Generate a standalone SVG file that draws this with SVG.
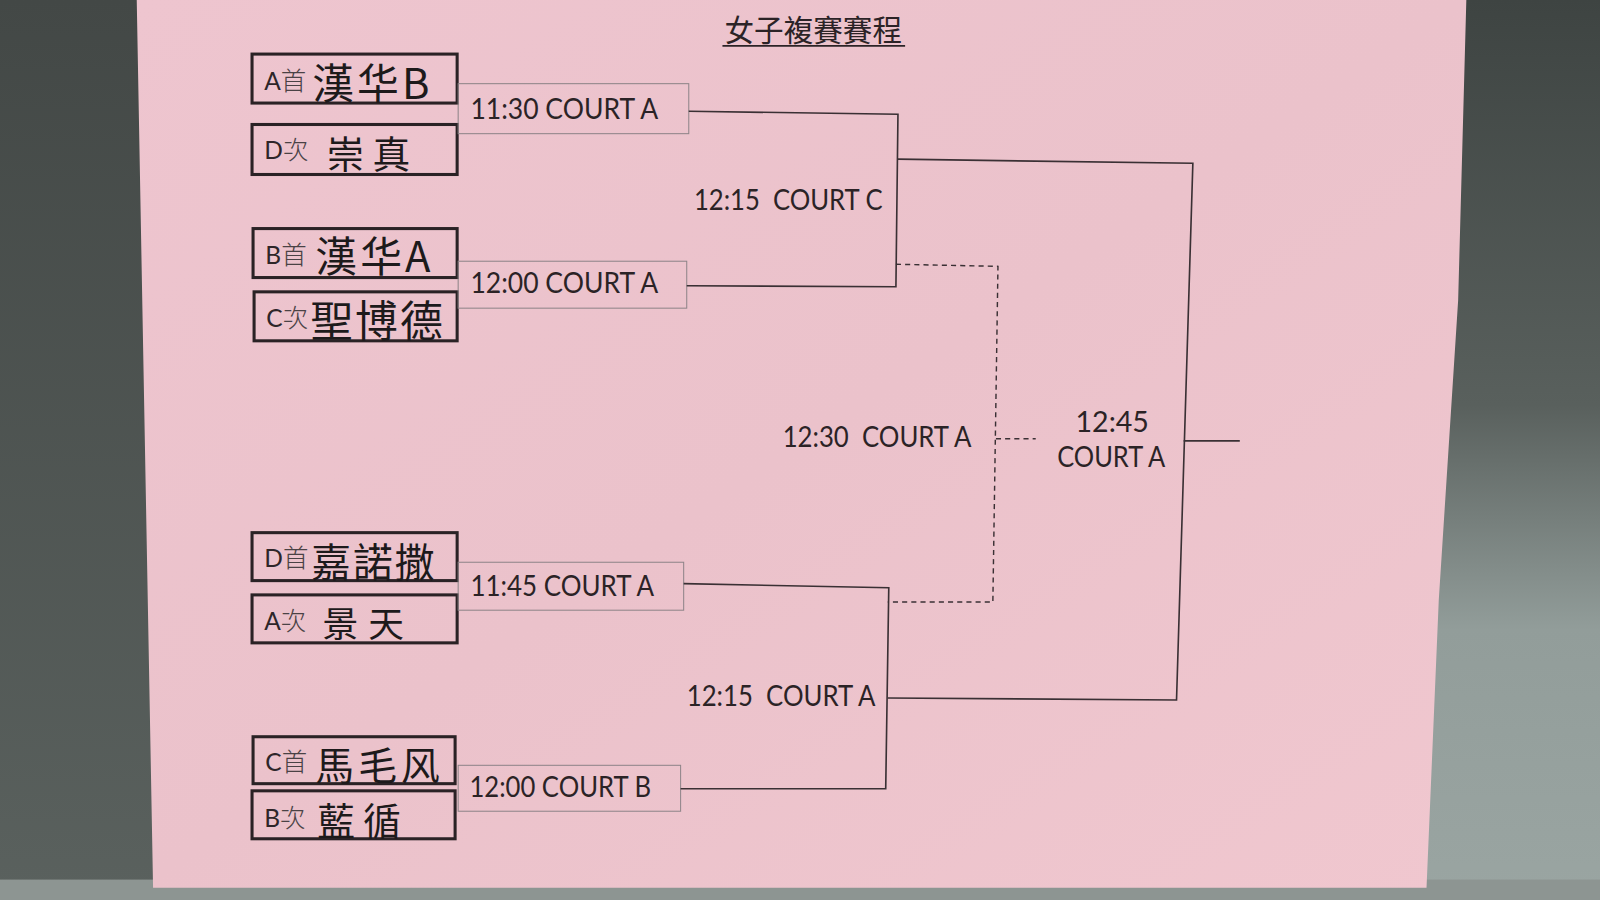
<svg xmlns="http://www.w3.org/2000/svg" width="1600" height="900" viewBox="0 0 1600 900">
<defs>
<linearGradient id="rbg" x1="0" y1="0" x2="0" y2="1">
<stop offset="0" stop-color="#3e4442"/>
<stop offset="0.45" stop-color="#59605d"/>
<stop offset="0.7" stop-color="#929d9a"/>
<stop offset="1" stop-color="#9aa5a2"/>
</linearGradient>
<linearGradient id="lbg" x1="0" y1="0" x2="0" y2="1">
<stop offset="0" stop-color="#434846"/>
<stop offset="1" stop-color="#5a615e"/>
</linearGradient>
<linearGradient id="paper" x1="0" y1="0" x2="1" y2="1">
<stop offset="0" stop-color="#eec5cf"/>
<stop offset="0.5" stop-color="#ebc2cb"/>
<stop offset="1" stop-color="#f0c7cf"/>
</linearGradient>
<style>
.team{fill:none;stroke:#2a2225;stroke-width:3}
.lbl{fill:none;stroke:#8e8488;stroke-width:1}
.pre{font-family:Lato,"Liberation Sans",sans-serif;font-size:24px;fill:#2e2629}
.pre2{font-family:"Noto Sans CJK TC","Noto Sans CJK SC",sans-serif;font-weight:300;font-size:25px;fill:#4a4245}
.hand{font-family:"Noto Sans CJK TC","Noto Sans CJK SC",sans-serif;font-weight:400;fill:#1d1a1b}
.time{font-family:Lato,"Open Sans",sans-serif;font-size:28px;fill:#2b2326}
.title{font-family:"Noto Sans CJK TC","Noto Sans CJK SC",sans-serif;font-size:29px;fill:#2b2326}
.ln{fill:none;stroke:#3a3034;stroke-width:1.6}
.dash{fill:none;stroke:#3a3034;stroke-width:1.4;stroke-dasharray:5 4}
</style>
</defs>
<g transform="scale(1.020408)">
<rect x="0" y="0" width="1568" height="882" fill="url(#lbg)"/>
<rect x="1380" y="0" width="188" height="882" fill="url(#rbg)"/>
<rect x="0" y="862" width="1568" height="20" fill="#8d9592"/>
<polygon points="134,0 1437,0 1429,294 1410,588 1398,870 150,870" fill="url(#paper)"/>

<g id="title">
<text class="title" x="797" y="40" text-anchor="middle">女子複賽賽程</text>
<line x1="708" y1="45" x2="887" y2="45" stroke="#2b2326" stroke-width="1.6"/>
</g>

<g id="team-a1">
<rect class="team" x="247" y="53" width="201" height="48"/>
<text x="259" y="88"><tspan class="pre">A</tspan><tspan class="pre2">首</tspan></text>
<text class="hand" x="306" y="97" font-size="41" letter-spacing="3">漢华B</text>
</g>
<g id="team-d2">
<rect class="team" x="247" y="122" width="201" height="49"/>
<text x="259" y="156"><tspan class="pre">D</tspan><tspan class="pre2">次</tspan></text>
<text class="hand" x="320" y="165" font-size="37" letter-spacing="8">崇真</text>
</g>
<g id="team-b1">
<rect class="team" x="248" y="224" width="200" height="48"/>
<text x="260" y="259"><tspan class="pre">B</tspan><tspan class="pre2">首</tspan></text>
<text class="hand" x="309" y="267" font-size="41" letter-spacing="3">漢华A</text>
</g>
<g id="team-c2">
<rect class="team" x="249" y="286" width="199" height="48"/>
<text x="261" y="320"><tspan class="pre">C</tspan><tspan class="pre2">次</tspan></text>
<text class="hand" x="304" y="330" font-size="42" letter-spacing="2">聖博德</text>
</g>
<g id="team-d1">
<rect class="team" x="247" y="522" width="201" height="47"/>
<text x="259" y="556"><tspan class="pre">D</tspan><tspan class="pre2">首</tspan></text>
<text class="hand" x="305" y="565" font-size="39" letter-spacing="2">嘉諾撒</text>
</g>
<g id="team-a2">
<rect class="team" x="247" y="583" width="201" height="47"/>
<text x="259" y="617"><tspan class="pre">A</tspan><tspan class="pre2">次</tspan></text>
<text class="hand" x="316" y="624" font-size="35" letter-spacing="10">景天</text>
</g>
<g id="team-c1">
<rect class="team" x="248" y="722" width="198" height="46"/>
<text x="260" y="756"><tspan class="pre">C</tspan><tspan class="pre2">首</tspan></text>
<text class="hand" x="309" y="764" font-size="38" letter-spacing="4">馬毛风</text>
</g>
<g id="team-b2">
<rect class="team" x="247" y="775" width="199" height="47"/>
<text x="259" y="810"><tspan class="pre">B</tspan><tspan class="pre2">次</tspan></text>
<text class="hand" x="311" y="818" font-size="37" letter-spacing="8">藍循</text>
</g>

<g id="match-1130">
<rect class="lbl" x="449" y="82" width="226" height="49"/>
<text class="time" x="461" y="117" textLength="184" lengthAdjust="spacingAndGlyphs">11:30 COURT A</text>
</g>
<g id="match-1200a">
<rect class="lbl" x="449" y="256" width="224" height="46"/>
<text class="time" x="461" y="287" textLength="184" lengthAdjust="spacingAndGlyphs">12:00 COURT A</text>
</g>
<g id="match-1145">
<rect class="lbl" x="449" y="551" width="221" height="47"/>
<text class="time" x="461" y="584" textLength="180" lengthAdjust="spacingAndGlyphs">11:45 COURT A</text>
</g>
<g id="match-1200b">
<rect class="lbl" x="449" y="750" width="218" height="45"/>
<text class="time" x="460" y="781" textLength="178" lengthAdjust="spacingAndGlyphs">12:00 COURT B</text>
</g>
<g id="match-1215c">
<text class="time" x="680" y="206" xml:space="preserve" textLength="185" lengthAdjust="spacingAndGlyphs">12:15  COURT C</text>
</g>
<g id="match-1215a">
<text class="time" x="673" y="692" xml:space="preserve" textLength="185" lengthAdjust="spacingAndGlyphs">12:15  COURT A</text>
</g>
<g id="match-1230">
<text class="time" x="767" y="438" xml:space="preserve" textLength="185" lengthAdjust="spacingAndGlyphs">12:30  COURT A</text>
</g>
<g id="match-1245">
<text class="time" x="1090" y="423" text-anchor="middle">12:45</text>
<text class="time" x="1089" y="458" text-anchor="middle" textLength="106" lengthAdjust="spacingAndGlyphs">COURT A</text>
</g>

<g id="connectors">
<path class="ln" d="M675,109 L880,112 L878,281 L673,280"/>
<path class="ln" d="M670,572 L871,576 L868,773 L667,773"/>
<path class="ln" d="M880,156 L1169,160 L1153,686 L870,684"/>
<path class="ln" d="M1160,432 L1215,432"/>
<path class="dash" d="M878,259 L978,261 L973,590 L870,590"/>
<path class="dash" d="M976,430 L1015,430"/>
</g>
</g>
</svg>
